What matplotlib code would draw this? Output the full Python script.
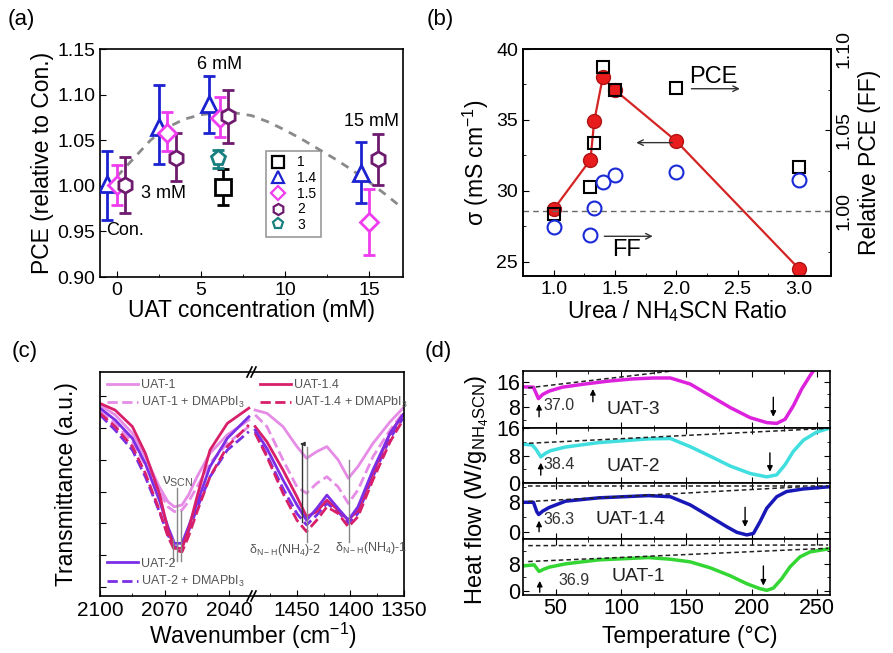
import numpy as np
import matplotlib.pyplot as plt
from matplotlib.ticker import MultipleLocator, FormatStrFormatter, FixedLocator
from matplotlib.lines import Line2D

plt.rcParams['font.family'] = ['Liberation Sans', 'DejaVu Sans']
plt.rcParams['mathtext.fontset'] = 'custom'
plt.rcParams['mathtext.rm'] = 'Liberation Sans'
plt.rcParams['mathtext.it'] = 'Liberation Sans:italic'
plt.rcParams['mathtext.default'] = 'regular'
plt.rcParams['xtick.direction'] = 'in'
plt.rcParams['ytick.direction'] = 'in'
plt.rcParams['axes.linewidth'] = 1.2

# ---- (a) relative PCE vs UAT concentration ----
a1_x, a1_y, a1_lo, a1_hi = [6.3], [0.999], [0.979], [1.018]
a14_x = [-0.6, 2.5, 5.5, 14.5]
a14_y = [1.002, 1.065, 1.090, 1.014]
a14_lo = [0.963, 1.024, 1.058, 0.981]
a14_hi = [1.038, 1.110, 1.120, 1.048]
a15_x = [0.0, 3.0, 6.1, 15.0]
a15_y = [1.001, 1.058, 1.074, 0.960]
a15_lo = [0.979, 1.038, 1.053, 0.924]
a15_hi = [1.023, 1.081, 1.097, 0.996]
a2_x = [0.5, 3.5, 6.6, 15.5]
a2_y = [1.001, 1.030, 1.076, 1.029]
a2_lo = [0.970, 1.005, 1.047, 1.001]
a2_hi = [1.032, 1.058, 1.105, 1.057]
a3_x, a3_y, a3_lo, a3_hi = [6.0], [1.030], [1.020], [1.039]
fit_x = [0, 1, 2, 3, 4, 5, 6, 7, 8, 9, 10, 11, 12, 13, 14, 15, 16, 17]
fit_y = [1.010, 1.030, 1.050, 1.064, 1.073, 1.078, 1.080, 1.080, 1.077,
         1.070, 1.061, 1.051, 1.040, 1.029, 1.017, 1.004, 0.990, 0.975]

# ---- (b) conductivity and relative PCE/FF vs ratio ----
b_ratio = [1.0, 1.3, 1.33, 1.4, 1.5, 2.0, 3.0]
b_sigma = [28.7, 32.2, 34.9, 38.0, 37.1, 33.5, 24.5]
b_pce = [0.998, 1.015, 1.042, 1.089, 1.075, 1.076, 1.027]
b_ff = [0.990, 0.985, 1.002, 1.018, 1.022, 1.024, 1.019]

# ---- (c) FTIR spectra (two wavenumber windows) ----
c_xl = [2100, 2093, 2085, 2079, 2072.5, 2068.5, 2065.5, 2062, 2059, 2055, 2049, 2041, 2031]
c_uat1_l = [5.73, 5.42, 4.84, 4.10, 3.15, 2.68, 2.52, 2.58, 2.89, 3.47, 4.21, 4.79, 5.26]
c_uat1d_l = [5.52, 5.15, 4.57, 3.84, 3.00, 2.52, 2.37, 2.42, 2.68, 3.15, 3.89, 4.52, 5.05]
c_uat14_l = [5.78, 5.57, 5.05, 4.21, 2.95, 1.79, 1.21, 1.21, 1.79, 2.84, 4.31, 5.15, 5.63]
c_uat14d_l = [5.47, 5.05, 4.42, 3.58, 2.42, 1.58, 1.16, 1.10, 1.58, 2.37, 3.47, 4.42, 5.10]
c_uat2_l = [5.63, 5.26, 4.68, 3.89, 2.73, 1.89, 1.37, 1.37, 1.89, 2.63, 3.79, 4.68, 5.36]
c_uat2d_l = [5.42, 4.94, 4.31, 3.47, 2.37, 1.63, 1.26, 1.26, 1.74, 2.47, 3.47, 4.31, 4.89]
c_xr = [1489, 1478, 1463, 1450, 1441, 1431.5, 1422, 1411.5, 1402, 1393, 1379, 1363, 1351]
c_uat1_r = [5.57, 5.47, 5.05, 4.42, 4.05, 4.26, 4.42, 4.00, 3.42, 3.79, 4.52, 5.20, 5.63]
c_uat1d_r = [5.42, 5.05, 4.00, 3.15, 2.95, 3.26, 3.47, 3.15, 2.63, 3.05, 4.10, 4.94, 5.47]
c_uat14_r = [5.05, 4.57, 3.68, 2.84, 2.21, 2.37, 2.73, 2.42, 2.10, 2.42, 3.58, 4.84, 5.42]
c_uat14d_r = [4.84, 4.10, 2.95, 2.10, 1.74, 2.10, 2.52, 2.31, 1.89, 2.21, 3.37, 4.57, 5.26]
c_uat2_r = [4.94, 4.36, 3.37, 2.58, 2.10, 2.47, 2.89, 2.47, 2.10, 2.52, 3.68, 4.84, 5.42]
c_uat2d_r = [4.89, 4.15, 3.10, 2.31, 1.95, 2.26, 2.63, 2.37, 2.00, 2.31, 3.47, 4.68, 5.31]

# ---- (d) DSC heat flow ----
d3_t = [25.8, 33, 36.8, 40, 44.9, 55, 70.4, 90, 108.5, 125, 137.8, 153, 168.3, 183.6,
        198.9, 211.6, 219.2, 225.6, 231.9, 238.3, 244.7, 249]
d3_y = [14.4, 14.3, 10.7, 12.0, 13.05, 14.3, 15.2, 16.2, 16.9, 17.2, 17.2, 15.3, 11.6, 7.9,
        4.7, 3.15, 2.9, 4.2, 8.4, 13.7, 17.9, 20.5]
d2_t = [25.8, 32, 35, 38.6, 42, 46, 57.6, 83, 121, 137.8, 153, 168.3, 183.6, 198.9,
        211.6, 219.2, 225.6, 231.9, 239.6, 249.8, 260]
d2_y = [11.3, 11.1, 9.8, 7.6, 8.6, 9.4, 10.5, 11.8, 12.9, 13.0, 10.6, 7.8, 4.9, 2.7,
        1.7, 2.3, 5.3, 9.2, 12.5, 14.9, 16.1]
d14_t = [25.8, 33, 35.5, 37, 40, 45, 57.6, 83, 121, 137.8, 153, 168.3, 181, 188.7,
         196.3, 201.4, 206.5, 211.6, 219.2, 226.8, 239.6, 260]
d14_y = [8.0, 8.0, 5.5, 4.7, 5.6, 6.6, 8.3, 9.2, 9.8, 9.5, 7.3, 4.1, 1.4, -0.1,
         -0.8, -0.4, 2.8, 6.4, 9.5, 10.9, 11.6, 12.2]
d1_t = [25.8, 33.5, 37.3, 41, 45, 57.6, 83, 121, 137.8, 153, 168.3, 183.6, 196.3, 206.5,
        211.6, 216.7, 223, 229.4, 237, 244.7, 260]
d1_y = [7.5, 7.8, 5.8, 6.5, 7.1, 8.1, 9.3, 10.0, 9.5, 8.7, 6.9, 4.5, 2.1, 0.6,
        0.1, 0.8, 3.6, 7.2, 10.2, 11.7, 12.7]
d_labels = ['UAT-3', 'UAT-2', 'UAT-1.4', 'UAT-1']
d_onset = ['37.0', '38.4', '36.3', '36.9']

fig = plt.figure(figsize=(8.93, 6.53), dpi=100)


def add_px_axes(left, top, right, bottom):
    return fig.add_axes([left / 893, 1 - bottom / 653, (right - left) / 893, (bottom - top) / 653])


TICK = 14

# ================= (a) =================
ax = add_px_axes(100, 49, 403, 277)
ax.plot(fit_x, fit_y, ls=(0, (3, 2.5)), color='#8a8a8a', lw=2, zorder=1)
series_a = [
    (a1_x, a1_y, a1_lo, a1_hi, 's', 'black', '1'),
    (a14_x, a14_y, a14_lo, a14_hi, '^', '#1c22d0', '1.4'),
    (a15_x, a15_y, a15_lo, a15_hi, 'D', '#ee3cee', '1.5'),
    (a2_x, a2_y, a2_lo, a2_hi, 'h', '#6e1a6e', '2'),
    (a3_x, a3_y, a3_lo, a3_hi, 'p', '#17807e', '3'),
]
handles = []
for x, y, lo, hi, m, c, lab in series_a:
    y = np.array(y)
    yerr = [y - np.array(lo), np.array(hi) - y]
    ms = 9 if m == 'D' else 11
    ax.errorbar(x, y, yerr=yerr, fmt=m, ms=ms, mfc='white', mec=c, mew=2,
                ecolor=c, elinewidth=2, capsize=4, capthick=2, zorder=3)
    handles.append(Line2D([], [], ls='none', marker=m, mfc='white', mec=c, mew=1.6,
                          ms=8 if m != 'D' else 7, label=lab))
leg = ax.legend(handles=handles, loc='upper left', bbox_to_anchor=(0.525, 0.585),
                frameon=True, fancybox=False, edgecolor='#808080', fontsize=10,
                handlelength=1.0, handletextpad=0.9, labelspacing=0.12, borderpad=0.35)
leg.get_frame().set_linewidth(1.2)
ax.text(6.1, 1.133, '6 mM', fontsize=13, ha='center', va='center')
ax.text(2.8, 0.992, '3 mM', fontsize=13, ha='center', va='center')
ax.text(15.1, 1.070, '15 mM', fontsize=13, ha='center', va='center')
ax.text(0.5, 0.951, 'Con.', fontsize=13, ha='center', va='center')
ax.set_xlim(-1, 17)
ax.set_ylim(0.90, 1.15)
ax.xaxis.set_major_locator(MultipleLocator(5))
ax.xaxis.set_minor_locator(MultipleLocator(2.5))
ax.yaxis.set_major_locator(MultipleLocator(0.05))
ax.yaxis.set_major_formatter(FormatStrFormatter('%.2f'))
ax.tick_params(labelsize=TICK, length=4)
ax.tick_params(which='minor', length=2.5)
ax.set_xlabel('UAT concentration (mM)', fontsize=16.5, labelpad=0)
ax.set_ylabel('PCE (relative to Con.)', fontsize=16.5, labelpad=2)

# ================= (b) =================
axb = add_px_axes(523, 49, 831, 276)
axb.plot(b_ratio, b_sigma, '-o', color='#d42424', mfc='#e81c1c', mec='#b01414',
         ms=10, lw=1.6, zorder=2)
axb.set_xlim(0.75, 3.26)
axb.set_ylim(24, 40)
axb.xaxis.set_major_locator(MultipleLocator(0.5))
axb.xaxis.set_minor_locator(MultipleLocator(0.25))
axb.xaxis.set_major_formatter(FormatStrFormatter('%.1f'))
axb.yaxis.set_major_locator(MultipleLocator(5))
axb.yaxis.set_minor_locator(MultipleLocator(2.5))
axb.tick_params(labelsize=TICK, length=4)
axb.tick_params(which='minor', length=2.5)
axb.set_xlabel('Urea / NH$_4$SCN Ratio', fontsize=16.5, labelpad=0)
axb.set_ylabel('σ (mS cm$^{-1}$)', fontsize=16.5, labelpad=4)
axb2 = axb.twinx()
axb2.axhline(1.0, ls=(0, (4, 3)), color='#666666', lw=1)
axb2.plot(b_ratio, b_pce, ls='none', marker='s', mfc='none', mec='black', ms=9, mew=1.5)
axb2.plot(b_ratio, b_ff, ls='none', marker='o', mfc='none', mec='#1a2ad6', ms=10, mew=1.5)
axb2.set_ylim(0.96, 1.10)
axb2.yaxis.set_major_locator(MultipleLocator(0.05))
axb2.yaxis.set_minor_locator(MultipleLocator(0.025))
axb2.yaxis.set_major_formatter(FormatStrFormatter('%.2f'))
axb2.tick_params(labelsize=TICK, length=4, labelrotation=90)
axb2.tick_params(which='minor', length=2.5)
for t in axb2.get_yticklabels():
    t.set_va('center')
axb2.set_ylabel('Relative PCE (FF)', fontsize=16.5, labelpad=4)
arrow = dict(arrowstyle='->', color='#333333', lw=1)
axb.text(2.30, 38.0, 'PCE', fontsize=17, ha='center', va='center')
axb.annotate('', xy=(2.54, 37.2), xytext=(2.10, 37.2), arrowprops=arrow)
axb.annotate('', xy=(1.65, 33.4), xytext=(1.99, 33.4), arrowprops=arrow)
axb.text(1.59, 25.8, 'FF', fontsize=17, ha='center', va='center')
axb.annotate('', xy=(1.83, 26.8), xytext=(1.39, 26.8), arrowprops=arrow)

# ================= (c) =================
axc1 = add_px_axes(100, 372, 251, 596)
axc2 = add_px_axes(253, 372, 404, 596)
c_col = {'1': '#e68ce6', '1.4': '#d81f6a', '2': '#7a2ee6'}
for axc, xs, curves in [
    (axc1, c_xl, [(c_uat1_l, '1', '-'), (c_uat1d_l, '1', '--'), (c_uat2d_l, '2', '--'),
                  (c_uat14d_l, '1.4', '--'), (c_uat2_l, '2', '-'), (c_uat14_l, '1.4', '-')]),
    (axc2, c_xr, [(c_uat1_r, '1', '-'), (c_uat1d_r, '1', '--'), (c_uat2d_r, '2', '--'),
                  (c_uat14d_r, '1.4', '--'), (c_uat14_r, '1.4', '-'), (c_uat2_r, '2', '-')]),
]:
    for ys, key, ls in curves:
        axc.plot(xs, ys, ls=ls, color=c_col[key], lw=2)
    axc.set_ylim(-0.29, 6.77)
    axc.yaxis.set_major_locator(MultipleLocator(1))
    axc.tick_params(labelsize=15, length=4, labelleft=False)
    axc.tick_params(which='minor', length=2.5)
axc1.set_xlim(2100, 2030)
axc2.set_xlim(1491, 1350)
axc1.xaxis.set_major_locator(MultipleLocator(30))
axc1.xaxis.set_minor_locator(MultipleLocator(15))
axc2.xaxis.set_major_locator(MultipleLocator(50))
axc2.xaxis.set_minor_locator(MultipleLocator(25))
axc1.spines['right'].set_visible(False)
axc2.spines['left'].set_visible(False)
axc2.tick_params(left=False)
for x0 in (247, 251):
    for y0 in (377, 601):
        fig.add_artist(Line2D([x0 / 893, (x0 + 5) / 893], [1 - y0 / 653, 1 - (y0 - 10) / 653],
                              color='black', lw=1.2, transform=fig.transFigure))
# peak markers
g = '#888888'
axc1.plot([2064.5, 2064.5], [3.1, 0.8], color=g, lw=1)
axc1.plot([2062.5, 2062.5], [2.4, 0.8], color=g, lw=1)
axc1.plot([2066, 2066], [1.5, 0.8], color=g, lw=1)
axc1.text(2064, 3.3, 'ν$_{SCN}$', fontsize=11, color='#555555', ha='center', va='center')
axc2.plot([1445.5, 1445.5], [4.47, 2.05], color='#333333', lw=1)
axc2.annotate('', xy=(1449.5, 4.5), xytext=(1442, 4.5),
              arrowprops=dict(arrowstyle='-|>', color='#333333', lw=1, mutation_scale=6))
axc2.plot([1441, 1441], [4.42, 1.42], color=g, lw=1)
axc2.plot([1401.4, 1401.4], [4.0, 1.42], color=g, lw=1)
axc2.text(1461, 1.16, 'δ$_{N-H}$(NH$_4$)-2', fontsize=9, color='#555555', ha='center', va='center')
axc2.text(1381, 1.23, 'δ$_{N-H}$(NH$_4$)-1', fontsize=9, color='#555555', ha='center', va='center')


def c_handles(key):
    return [Line2D([], [], color=c_col[key], lw=2, ls='-'),
            Line2D([], [], color=c_col[key], lw=2, ls='--')]


leg_kw = dict(frameon=False, fontsize=9, labelcolor='#555555', handlelength=2.5,
              handletextpad=0.2, labelspacing=0.35, borderaxespad=0.15)
l1 = axc1.legend(c_handles('1'), ['UAT-1', 'UAT-1 + DMAPbI$_3$'], loc='upper left', **leg_kw)
axc1.add_artist(l1)
axc1.legend(c_handles('2'), ['UAT-2', 'UAT-2 + DMAPbI$_3$'], loc='lower left', **leg_kw)
axc2.legend(c_handles('1.4'), ['UAT-1.4', 'UAT-1.4 + DMAPbI$_3$'], loc='upper left', **leg_kw)
axc1.set_ylabel('Transmittance (a.u.)', fontsize=16.5, labelpad=16)
fig.text(253 / 893, 1 - 636 / 653, 'Wavenumber (cm$^{-1}$)', fontsize=16.5, ha='center', va='center')

# ================= (d) =================
d_rows = [(371, 428), (428, 483), (483, 539), (539, 595)]
d_lims = [(1.45, 19.4), (-0.1, 16.1), (-1.9, 13.2), (-1.3, 15.6)]
d_ticks = [[8, 16], [0, 8, 16], [0, 8], [0, 8]]
d_cols = ['#dd22dd', '#40dede', '#1818b8', '#33d633']
d_data = [(d3_t, d3_y), (d2_t, d2_y), (d14_t, d14_y), (d1_t, d1_y)]
d_base = [[(29, 14.1), (139, 19.4)], [(29.6, 11.6), (258.5, 16.0)],
          [(29, 8.2), (240, 12.2)], [(29, 8.8), (258.5, 12.8)]]
d_top = [None, None, [(29, 12.3), (258.5, 12.3)], [(29, 13.6), (258.5, 13.8)]]
d_up = [(37.3, 4.1, 9.9), (38.6, 1.4, 6.7), (37.3, -0.7, 3.8), (37.8, -1.3, 3.8)]
d_down = [(216.6, 12.0, 4.1), (214, 9.6, 2.4), (195, 7.4, 0.6), (209, 8.3, 0.7)]
d_num_pos = [(40.5, 8.6), (40.5, 5.3), (40.5, 3.3), (52, 3.2)]
d_lab_pos = [(109.5, 7.3), (109.5, 4.8), (107, 3.3), (113, 4.2)]
arr_d = dict(arrowstyle='-|>', color='black', lw=1, mutation_scale=8)
for i, (top, bot) in enumerate(d_rows):
    axd = add_px_axes(523, top, 830, bot)
    t, y = d_data[i]
    axd.plot(t, y, color=d_cols[i], lw=2.5)
    (x0, y0), (x1, y1) = d_base[i]
    axd.plot([x0, x1], [y0, y1], ls=(0, (3, 2)), color='#222222', lw=1.1)
    if d_top[i]:
        (x0, y0), (x1, y1) = d_top[i]
        axd.plot([x0, x1], [y0, y1], ls=(0, (3, 2)), color='#222222', lw=1.1)
    if i == 0:
        axd.annotate('', xy=(78.5, 14.6), xytext=(78.5, 8.85), arrowprops=arr_d)
    ux, uy0, uy1 = d_up[i]
    axd.annotate('', xy=(ux, uy1), xytext=(ux, uy0), arrowprops=arr_d)
    dx, dy0, dy1 = d_down[i]
    axd.annotate('', xy=(dx, dy1), xytext=(dx, dy0), arrowprops=arr_d)
    axd.text(*d_num_pos[i], d_onset[i], fontsize=11.5, color='#333333', ha='left', va='center')
    axd.text(*d_lab_pos[i], d_labels[i], fontsize=14, color='#222222', ha='center', va='center')
    axd.set_xlim(25, 260)
    axd.set_ylim(*d_lims[i])
    axd.yaxis.set_major_locator(FixedLocator(d_ticks[i]))
    axd.yaxis.set_minor_locator(MultipleLocator(4))
    axd.xaxis.set_major_locator(MultipleLocator(50))
    axd.xaxis.set_minor_locator(MultipleLocator(25))
    axd.tick_params(which='both', top=True, right=True)
    axd.tick_params(labelsize=15.5, length=4, pad=2)
    axd.tick_params(which='minor', length=2.5)
    if i < 3:
        axd.tick_params(labelbottom=False)
fig.text(690 / 893, 1 - 636 / 653, 'Temperature (°C)', fontsize=16.5, ha='center', va='center')
fig.text(477 / 893, 1 - 490 / 653, 'Heat flow (W/g$_{NH_4SCN}$)', fontsize=17,
         rotation=90, ha='center', va='center')

# panel letters
for s, x, y in [('(a)', 8, 20), ('(b)', 427, 20), ('(c)', 12, 352), ('(d)', 425, 352)]:
    fig.text(x / 893, 1 - y / 653, s, fontsize=16, ha='left', va='center')

fig.savefig('out.png', dpi=100)
